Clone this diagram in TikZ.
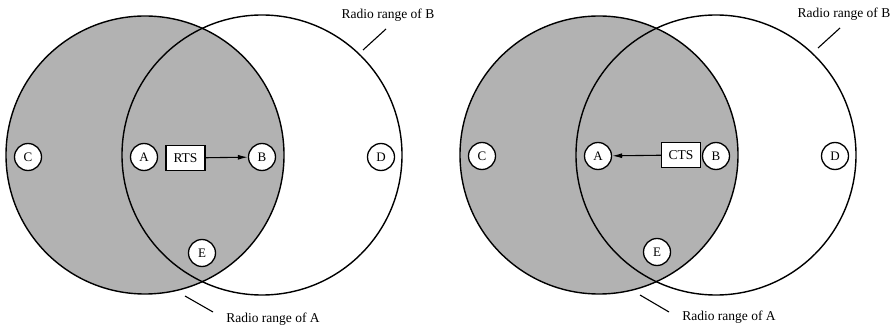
\documentclass[tikz,border=0pt]{standalone}
\usepackage{fontspec}
\setmainfont{Liberation Serif}
\usetikzlibrary{arrows.meta,positioning}

\begin{document}
\begin{tikzpicture}[
  x=1pt, y=1pt,
  rangeline/.style={line width=1.4pt},
  grayarea/.style={fill=black!30},
  station/.style={draw, circle, fill=white, line width=1.3pt, minimum size=27pt, inner sep=0pt, font=\fontsize{13}{15}\selectfont},
  msgbox/.style={draw, fill=white, line width=1.2pt, minimum width=39pt, minimum height=25pt, inner sep=1pt, font=\fontsize{13.5}{15}\selectfont},
  arrow/.style={-{Latex[length=10pt,width=5pt]}, line width=1.1pt},
  leadline/.style={line width=1.1pt},
  rangenote/.style={font=\fontsize{13.5}{15}\selectfont, inner sep=0pt}
]
\useasboundingbox (0,0) rectangle (894,327);

% left panel: A sends RTS
\fill[grayarea] (145,172) circle[radius=139];
\draw[rangeline] (145,172) circle[radius=139];
\draw[rangeline] (262,172) circle[radius=140];

\node[station] (lC) at (28,170) {C};
\node[station] (lA) at (144,170) {A};
\node[station] (lB) at (262,170) {B};
\node[station] (lD) at (381,170) {D};
\node[station] (lE) at (202,74) {E};
\node[msgbox] (lrts) at (185.5,169) {RTS};
\draw[arrow] (lrts) -- (lB);

\node[rangenote] (lnb) at (388,312) {Radio range of B};
\coordinate (lb1) at (363,277);
\coordinate (lb2) at (386,298);
\draw[leadline] (lb1) -- (lb2);
\node[rangenote] (lna) at (273,8) {Radio range of A};
\coordinate (la1) at (185,31);
\coordinate (la2) at (213,15);
\draw[leadline] (la1) -- (la2);

% right panel: B answers CTS
\begin{scope}[xshift=454pt]
\fill[grayarea] (145,172) circle[radius=139];
\draw[rangeline] (145,172) circle[radius=139];
\draw[rangeline] (262,172) circle[radius=140];

\node[station] (rC) at (28,171) {C};
\node[station] (rA) at (144,171) {A};
\node[station] (rB) at (262,171) {B};
\node[station] (rD) at (381,171) {D};
\node[station] (rE) at (203,75) {E};
\node[msgbox] (rcts) at (227,172) {CTS};
\draw[arrow] (rcts) -- (rA);

\node[rangenote] (rnb) at (390,313) {Radio range of B};
\coordinate (rb1) at (364,279);
\coordinate (rb2) at (386,299);
\draw[leadline] (rb1) -- (rb2);
\node[rangenote] (rna) at (275,10) {Radio range of A};
\coordinate (ra1) at (186,32);
\coordinate (ra2) at (215,15);
\draw[leadline] (ra1) -- (ra2);
\end{scope}
\end{tikzpicture}
\end{document}
